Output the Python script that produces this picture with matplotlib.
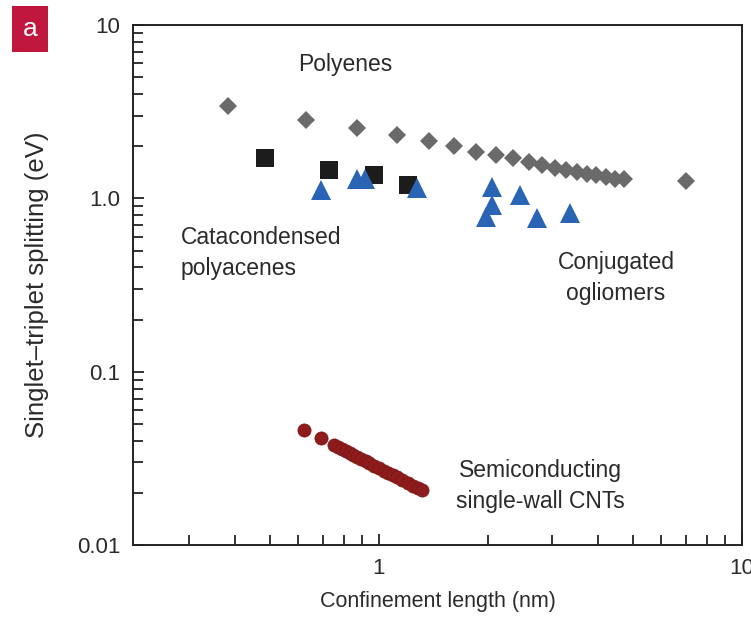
import matplotlib.pyplot as plt

plt.rcParams["font.family"] = ["Liberation Sans", "DejaVu Sans"]

# polyenes (grey diamonds)
poly_x = [0.383, 0.628, 0.869, 1.12, 1.37, 1.61, 1.85, 2.10, 2.34, 2.59,
          2.82, 3.06, 3.28, 3.52, 3.75, 3.97, 4.21, 4.46, 4.72, 7.0]
poly_y = [3.39, 2.81, 2.53, 2.31, 2.13, 1.99, 1.86, 1.77, 1.70, 1.61,
          1.55, 1.49, 1.45, 1.41, 1.38, 1.36, 1.32, 1.30, 1.29, 1.25]

# catacondensed polyacenes (black squares)
acene_x = [0.484, 0.727, 0.969, 1.20]
acene_y = [1.70, 1.45, 1.36, 1.19]

# conjugated oligomers (blue triangles)
olig_x = [0.691, 0.87, 0.915, 1.27, 2.05, 2.44, 2.05, 1.97, 2.72, 3.35]
olig_y = [1.11, 1.30, 1.29, 1.14, 1.16, 1.04, 0.91, 0.78, 0.77, 0.82]

# semiconducting SWCNTs (red circles)
cnt_x = [0.621, 0.691, 0.75, 0.77, 0.79, 0.81, 0.83, 0.85, 0.87, 0.89, 0.92,
         0.94, 0.97, 1.00, 1.03, 1.06, 1.09, 1.12, 1.16, 1.20, 1.24, 1.28, 1.31]
cnt_y = [0.0462, 0.0415, 0.0379, 0.0368, 0.0358, 0.0349, 0.0340, 0.0331,
         0.0323, 0.0315, 0.0304, 0.0297, 0.0287, 0.0278, 0.0269, 0.0261,
         0.0253, 0.0246, 0.0237, 0.0228, 0.0220, 0.0213, 0.0208]

fig = plt.figure(figsize=(7.51, 6.21), dpi=100)
ax = fig.add_axes([0.177, 0.122, 0.811, 0.838])

ax.plot(cnt_x, cnt_y, "o", color="#8e1c1c", ms=9.5, mec="#7a1515", mew=0.5)
ax.plot(poly_x, poly_y, "D", color="#6a6a6a", ms=9, mew=0)
ax.plot(acene_x, acene_y, "s", color="#1c1c1c", ms=13, mew=0)
ax.plot(olig_x, olig_y, "^", color="#2a64b4", ms=15, mew=0)

ax.set_xscale("log")
ax.set_yscale("log")
ax.set_xlim(0.21, 10)
ax.set_ylim(0.01, 10)

ax.set_xticks([1, 10])
ax.set_xticklabels(["1", "10"])
ax.set_yticks([0.01, 0.1, 1, 10])
ax.set_yticklabels(["0.01", "0.1", "1.0", "10"])

ax.tick_params(which="both", direction="in", top=False, right=False,
               labelsize=16, width=1.3, color="#222222", labelcolor="#2a2a2a")
ax.tick_params(which="major", length=8, pad=9)
ax.tick_params(which="minor", length=7)
for s in ax.spines.values():
    s.set_linewidth(1.4)
    s.set_color("#222222")

ax.set_xlabel("Confinement length (nm)", fontsize=15.5, color="#2a2a2a", labelpad=9)
ax.set_ylabel("Singlet\u2013triplet splitting (eV)", fontsize=18.5, color="#2a2a2a", labelpad=20)

txt = dict(fontsize=16.5, color="#2a2a2a", linespacing=1.45)
fig.text(345 / 751, 1 - 65 / 621, "Polyenes", ha="center", va="center", **txt)
fig.text(181 / 751, 1 - 253 / 621, "Catacondensed\npolyacenes", ha="left", va="center", **txt)
fig.text(616 / 751, 1 - 278 / 621, "Conjugated\nogliomers", ha="center", va="center", **txt)
fig.text(540 / 751, 1 - 486 / 621, "Semiconducting\nsingle-wall CNTs", ha="center", va="center", **txt)

# panel label
fig.text(30 / 751, 1 - 29 / 621, "a", ha="center", va="center", fontsize=19,
         color="white", bbox=dict(boxstyle="square,pad=0.4", fc="#c0173f", ec="none"))

fig.savefig("out.png", dpi=100)
